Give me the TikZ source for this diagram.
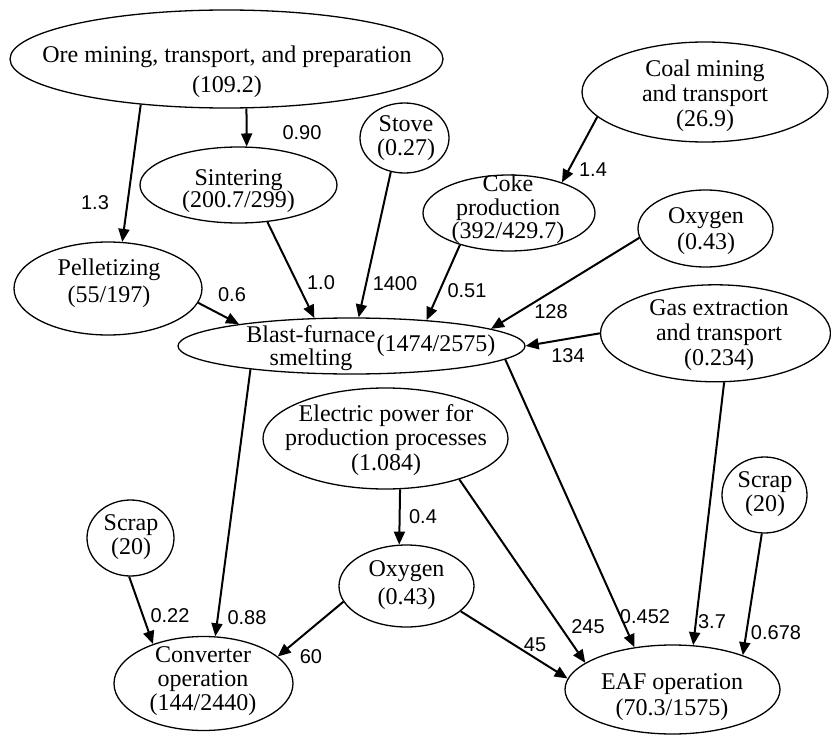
\documentclass[tikz,border=0pt]{standalone}
\usepackage{fontspec}
\setmainfont{Liberation Serif}
\newfontfamily\labfont{Liberation Sans}
\usetikzlibrary{shapes.geometric,arrows.meta}
\newcommand{\mlines}[2]{\fontsize{24}{#1}\selectfont\begin{tabular}[t]{@{}c@{}}#2\end{tabular}}
\tikzset{
  ell/.style={draw, ellipse, line width=1.3pt, inner sep=0pt},
  txt/.style={anchor=base, inner sep=0pt},
  flow/.style={line width=2pt, -{Triangle[length=13pt,width=11pt]}},
  lab/.style={inner sep=0pt, font=\labfont\fontsize{20}{22}\selectfont}
}
\begin{document}
\begin{tikzpicture}[x=1pt,y=-1pt]
\useasboundingbox (0,0) rectangle (831,736);

% ellipses
\node[ell, minimum width=433pt, minimum height=98pt] (ore) at (226.5,59) {};
\node[ell, minimum width=246pt, minimum height=100pt] (coal) at (705,92) {};
\node[ell, minimum width=89pt, minimum height=70pt] (stove) at (404.5,138) {};
\node[ell, minimum width=197pt, minimum height=76pt] (sint) at (238.5,185) {};
\node[ell, minimum width=172pt, minimum height=76pt] (coke) at (509,213) {};
\node[ell, minimum width=135pt, minimum height=77pt] (oxy1) at (705.5,228.5) {};
\node[ell, minimum width=188pt, minimum height=93pt] (pel) at (108,288.5) {};
\node[ell, minimum width=347pt, minimum height=56pt] (bf) at (351.5,346) {};
\node[ell, minimum width=230pt, minimum height=97pt] (gas) at (715.5,333.3) {};
\node[ell, minimum width=245pt, minimum height=101pt] (elec) at (385.5,438.5) {};
\node[ell, minimum width=87pt, minimum height=76pt] (scrap1) at (130.5,538) {};
\node[ell, minimum width=135pt, minimum height=82pt] (oxy2) at (406.5,586) {};
\node[ell, minimum width=179pt, minimum height=94pt] (conv) at (203.5,683.5) {};
\node[ell, minimum width=85pt, minimum height=76pt] (scrap2) at (764.5,495) {};
\node[ell, minimum width=215pt, minimum height=89pt] (eaf) at (672.5,689.5) {};

% texts
\node[txt] (t-ore) at (227,62) {\mlines{31pt}{Ore mining, transport, and preparation\\(109.2)}};
\node[txt] (t-coal) at (705,76) {\mlines{25.5pt}{Coal mining\\and transport\\(26.9)}};
\node[txt] (t-stove) at (406,131.7) {\mlines{23.3pt}{Stove\\(0.27)}};
\node[txt] (t-sint) at (238.5,185) {\mlines{21pt}{Sintering\\(200.7/299)}};
\node[txt] (t-coke) at (508,191.7) {\mlines{22.2pt}{Coke\\production\\(392/429.7)}};
\node[txt] (t-oxy1) at (706,223) {\mlines{26pt}{Oxygen\\(0.43)}};
\node[txt] (t-pel) at (109,275) {\mlines{27pt}{Pelletizing\\(55/197)}};
\node[txt] (t-bf) at (311,342) {\mlines{23pt}{Blast-furnace\\smelting}};
\node[txt] (t-bf2) at (436,351.7) {\mlines{23pt}{(1474/2575)}};
\node[txt] (t-gas) at (719,315) {\mlines{25pt}{Gas extraction\\and transport\\(0.234)}};
\node[txt] (t-elec) at (386,421.7) {\mlines{24.2pt}{Electric power for\\production processes\\(1.084)}};
\node[txt] (t-scrap1) at (131,530) {\mlines{24pt}{Scrap\\(20)}};
\node[txt] (t-oxy2) at (406.5,576.7) {\mlines{27.3pt}{Oxygen\\(0.43)}};
\node[txt] (t-conv) at (203,662.7) {\mlines{23.7pt}{Converter\\operation\\(144/2440)}};
\node[txt] (t-scrap2) at (765,487) {\mlines{24.7pt}{Scrap\\(20)}};
\node[txt] (t-eaf) at (672,689.3) {\mlines{25.7pt}{EAF operation\\(70.3/1575)}};

% connectors
\draw[flow] (ore.-152.3) -- (pel.73.1);
\draw[flow] (ore.-68.2) -- (sint.78.8);
\draw[flow] (coal.-167.5) -- (coke.30);
\draw[flow] (sint.-52.2) -- (bf.143.1);
\draw[flow] (stove.-112.5) -- (bf.76.9);
\draw[flow] (coke.-147.5) -- (bf.19.3);
\draw[flow] (oxy1.-172.4) -- (bf.7.6);
\draw[flow] (gas.180) -- (bf.0);
\draw[flow] (pel.-9.9) -- (bf.169.9);
\draw[flow] (bf.-167.1) -- (conv.76.1);
\draw[flow] (bf.-5.8) -- (eaf.132.1);
\draw[flow] (gas.-80.8) -- (eaf.65.2);
\draw[flow] (scrap2.-94) -- (eaf.26.8);
\draw[flow] (elec.-74.6) -- (oxy2.100);
\draw[flow] (elec.-29.1) -- (eaf.163.5);
\draw[flow] (oxy2.-25.8) -- (eaf.174.4);
\draw[flow] (oxy2.-166.1) -- (conv.20.2);
\draw[flow] (scrap1.-92) -- (conv.142.7);

% labels
\node[lab] (l1) at (95,203) {1.3};
\node[lab] (l2) at (302,133) {0.90};
\node[lab] (l3) at (593,170) {1.4};
\node[lab] (l4) at (321,283) {1.0};
\node[lab] (l5) at (395,284) {1400};
\node[lab] (l6) at (467,291) {0.51};
\node[lab] (l7) at (551,312) {128};
\node[lab] (l8) at (568,356) {134};
\node[lab] (l9) at (232,295) {0.6};
\node[lab] (l10) at (247,618) {0.88};
\node[lab] (l11) at (645,617) {0.452};
\node[lab] (l12) at (712,622) {3.7};
\node[lab] (l13) at (776,633) {0.678};
\node[lab] (l14) at (423,517) {0.4};
\node[lab] (l15) at (588,627) {245};
\node[lab] (l16) at (535,645) {45};
\node[lab] (l17) at (311,657) {60};
\node[lab] (l18) at (170,616) {0.22};
\end{tikzpicture}
\end{document}
